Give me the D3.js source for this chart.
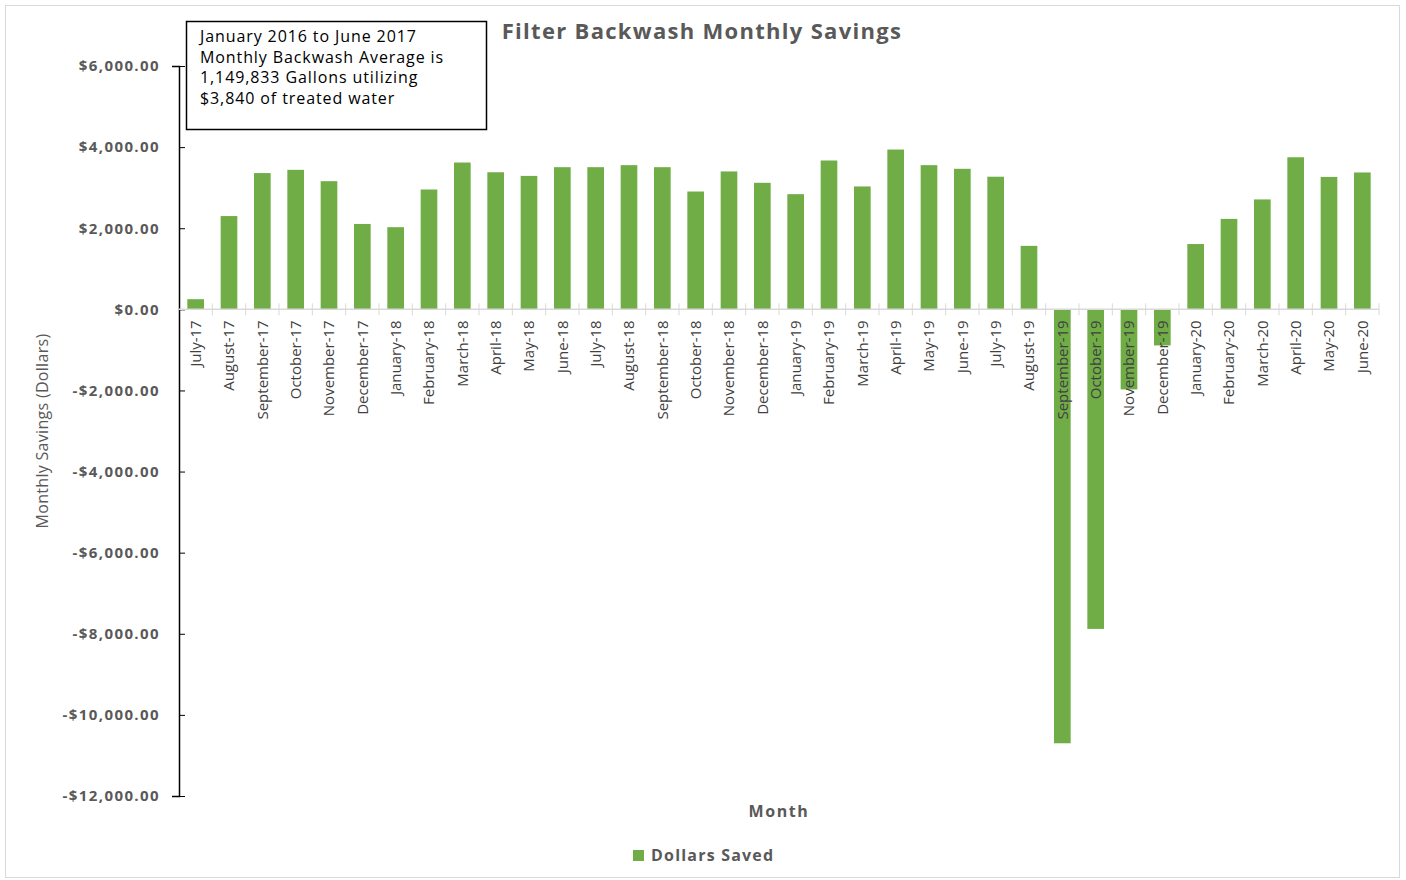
<!DOCTYPE html>
<meta charset="utf-8">

<!-- Load d3.js -->
<script src="https://d3js.org/d3.v7.min.js"></script>

<style>
  body { margin: 0; background: #fff; }
  text { font-family: "Open Sans", "DejaVu Sans", sans-serif; }
</style>

<!-- Create a div where the graph will take place -->
<div id="savings_chart"></div>

<script>

// months on the x axis
var months = ["July-17", "August-17", "September-17", "October-17", "November-17", "December-17",
  "January-18", "February-18", "March-18", "April-18", "May-18", "June-18",
  "July-18", "August-18", "September-18", "October-18", "November-18", "December-18",
  "January-19", "February-19", "March-19", "April-19", "May-19", "June-19",
  "July-19", "August-19", "September-19", "October-19", "November-19", "December-19",
  "January-20", "February-20", "March-20", "April-20", "May-20", "June-20"];

// dollars saved each month
var dollarsSaved = [250, 2300, 3360, 3440, 3160, 2105,
  2025, 2955, 3620, 3380, 3290, 3505,
  3505, 3555, 3505, 2905, 3400, 3120,
  2840, 3670, 3030, 3940, 3555, 3465,
  3270, 1565, -10700, -7880, -1975, -890,
  1610, 2230, 2710, 3750, 3265, 3375];

var yTicks = [6000, 4000, 2000, 0, -2000, -4000, -6000, -8000, -10000, -12000];

var noteLines = ["January 2016 to June 2017",
  "Monthly Backwash Average is",
  "1,149,833 Gallons utilizing",
  "$3,840 of treated water"];

var colors = {
  "bar": "#70AD47",
  "text": "#595959",
  "axis": "#D9D9D9"
};

var width = 1406, height = 880;
var plot = {left: 179, right: 1379, top: 66, bottom: 796};

var svg = d3.select("#savings_chart")
  .append("svg")
  .attr("width", width)
  .attr("height", height);

// outer chart frame
svg.append("rect")
  .attr("x", 5.5).attr("y", 5.5)
  .attr("width", 1394).attr("height", 872)
  .attr("fill", "#fff")
  .attr("stroke", "#D9D9D9");

// scales
var x = d3.scaleBand()
  .domain(months)
  .range([plot.left, plot.right]);

var y = d3.scaleLinear()
  .domain([-12000, 6000])
  .range([plot.bottom, plot.top]);

var money = function(v) {
  return (v < 0 ? "-" : "") + "$" + d3.format(",.2f")(Math.abs(v));
};

// bars
var barW = x.bandwidth() * 0.5;
svg.append("g")
  .selectAll("rect")
  .data(dollarsSaved)
  .enter()
  .append("rect")
  .attr("x", function(d, i) { return x(months[i]) + (x.bandwidth() - barW) / 2; })
  .attr("y", function(d) { return y(Math.max(0, d)); })
  .attr("width", barW)
  .attr("height", function(d) { return Math.abs(y(d) - y(0)); })
  .attr("fill", colors.bar);

// y axis
var yAxis = svg.append("g")
  .attr("transform", "translate(" + plot.left + ",0)")
  .call(d3.axisLeft(y).tickValues(yTicks).tickFormat(money).tickSize(7).tickPadding(12));
yAxis.select(".domain").attr("stroke", "#000").attr("stroke-width", 1.5);
yAxis.selectAll(".tick line")
  .attr("x2", 6)
  .attr("stroke", "#000");
yAxis.selectAll(".tick text")
  .style("font-size", "15px")
  .style("font-weight", "bold")
  .style("letter-spacing", "1.4px")
  .attr("fill", colors.text);

// x axis along zero (tick marks between categories)
var xAxis = svg.append("g");
xAxis.append("line")
  .attr("x1", plot.left).attr("x2", plot.right)
  .attr("y1", y(0)).attr("y2", y(0))
  .attr("stroke", colors.axis).attr("stroke-width", 1.5);
xAxis.selectAll(".sep")
  .data(months)
  .enter()
  .append("line")
  .attr("x1", function(d) { return x(d) + x.bandwidth(); })
  .attr("x2", function(d) { return x(d) + x.bandwidth(); })
  .attr("y1", y(0) - 6).attr("y2", y(0) + 6)
  .attr("stroke", colors.axis);

// month labels (drawn over the negative bars)
xAxis.selectAll(".lbl")
  .data(months)
  .enter()
  .append("text")
  .attr("transform", function(d) {
    return "translate(" + (x(d) + x.bandwidth() / 2) + "," + (y(0) + 11) + ") rotate(-90)";
  })
  .attr("dy", "0.35em")
  .attr("text-anchor", "end")
  .style("font-size", "15px")
  .attr("fill", "#404040")
  .text(function(d) { return d; });

// title
svg.append("text")
  .attr("x", 702).attr("y", 39)
  .attr("text-anchor", "middle")
  .style("font-size", "22px")
  .style("font-weight", "bold")
  .style("letter-spacing", "1.3px")
  .attr("fill", colors.text)
  .text("Filter Backwash Monthly Savings");

// axis titles
svg.append("text")
  .attr("transform", "translate(48,431) rotate(-90)")
  .attr("text-anchor", "middle")
  .style("font-size", "16px")
  .style("letter-spacing", "0.3px")
  .attr("fill", colors.text)
  .text("Monthly Savings (Dollars)");

svg.append("text")
  .attr("x", 779).attr("y", 817)
  .attr("text-anchor", "middle")
  .style("font-size", "16px")
  .style("font-weight", "bold")
  .style("letter-spacing", "1.6px")
  .attr("fill", colors.text)
  .text("Month");

// legend
svg.append("rect")
  .attr("x", 633).attr("y", 850)
  .attr("width", 11).attr("height", 11)
  .attr("fill", colors.bar);
svg.append("text")
  .attr("x", 651).attr("y", 861)
  .style("font-size", "16px")
  .style("font-weight", "bold")
  .style("letter-spacing", "1.2px")
  .attr("fill", colors.text)
  .text("Dollars Saved");

// note box
svg.append("rect")
  .attr("x", 186.5).attr("y", 21.5)
  .attr("width", 300).attr("height", 108)
  .attr("fill", "#fff")
  .attr("stroke", "#000")
  .attr("stroke-width", 1.5);
svg.append("g")
  .selectAll("text")
  .data(noteLines)
  .enter()
  .append("text")
  .attr("x", 200)
  .attr("y", function(d, i) { return 42 + i * 20.5; })
  .style("font-size", "16px")
  .style("letter-spacing", "0.9px")
  .attr("fill", "#000")
  .text(function(d) { return d; });

</script>
